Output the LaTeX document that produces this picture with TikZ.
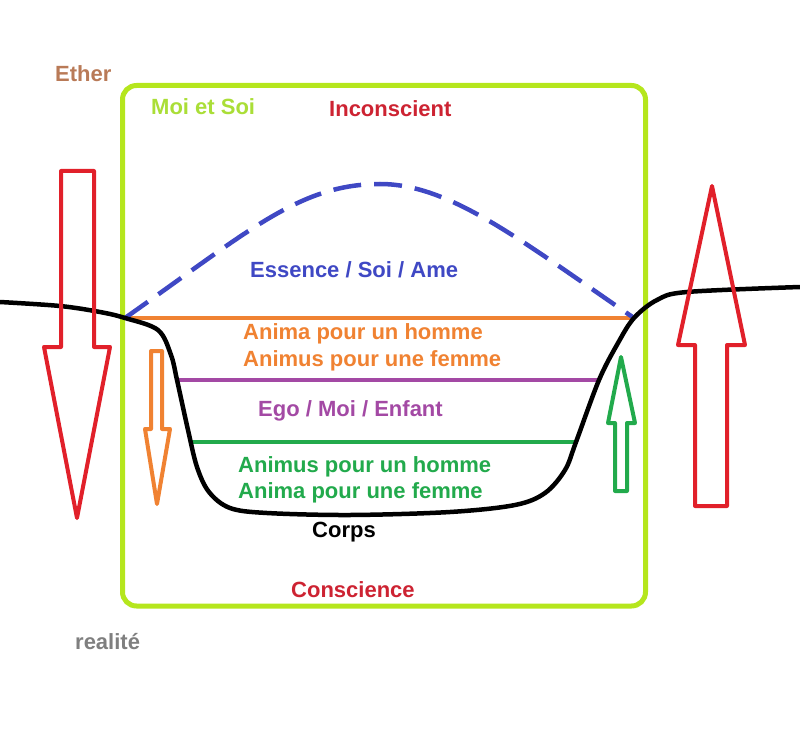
\documentclass[tikz,border=0pt]{standalone}
\usepackage{fontspec}
\setmainfont{Liberation Sans}
\definecolor{paintRed}{RGB}{225,32,42}
\definecolor{inkRed}{RGB}{205,35,50}
\definecolor{paintLime}{RGB}{181,230,29}
\definecolor{inkLime}{RGB}{170,222,55}
\definecolor{paintOrange}{RGB}{240,130,50}
\definecolor{paintPurple}{RGB}{163,73,164}
\definecolor{paintGreen}{RGB}{34,170,76}
\definecolor{paintBlue}{RGB}{63,72,196}
\definecolor{paintBrown}{RGB}{185,122,87}
\definecolor{paintGray}{RGB}{127,127,127}
\begin{document}
\begin{tikzpicture}[x=1pt,y=-1pt,
  every node/.style={font=\fontsize{22}{26}\selectfont\bfseries,inner sep=0pt,anchor=base west},
  frame/.style={draw=paintLime,line width=5pt,rounded corners=14pt},
  blockarrow/.style={line width=4pt,line join=round},
  layer/.style={line width=4pt}]
\useasboundingbox (0,0) rectangle (800,738);
% frame Moi et Soi
\draw[frame] (122.5,85.5) rectangle (645.5,606);
% junctions on the body line
\coordinate (lj) at (125,318);
\coordinate (rj) at (634,318);
\coordinate (pl) at (177,380);
\coordinate (pr) at (599,380);
\coordinate (gl) at (189,442);
\coordinate (gr) at (576,442);
% layers
\draw[layer,paintOrange] (lj) -- (rj);
\draw[layer,paintPurple] (pl) -- (pr);
\draw[layer,paintGreen] (gl) -- (gr);
\draw[layer,paintBlue,line width=4.5pt,dash pattern=on 28pt off 13pt]
  (lj) .. controls (250,230) and (300,184) .. (380,184)
       .. controls (450,184) and (520,240) .. (rj);
% body line
\draw[line width=4.5pt,line cap=round] plot[smooth,tension=0.55] coordinates {(0,302) (60,306) (100,312) (lj) (158,330) (171,355) (pl) (188,430) (197,467) (209,492) (230,508) (267,513) (350,515) (450,512) (515,505) (545,493) (565,470) (gr) (pr) (618,343) (rj) (657,300) (687,292) (800,287)};
% arrows
\draw[blockarrow,paintRed] (61,171) -- (94,171) -- (94,347) -- (110,347) -- (77,518) -- (44,347) -- (61,347) -- cycle;
\draw[blockarrow,paintOrange] (151,351) -- (162,351) -- (162,429) -- (170,429) -- (157,504) -- (145,429) -- (151,429) -- cycle;
\draw[blockarrow,paintGreen] (615,491) -- (627,491) -- (627,423) -- (635,423) -- (621,357) -- (608,423) -- (615,423) -- cycle;
\draw[blockarrow,paintRed] (695,506) -- (727,506) -- (727,345) -- (745,345) -- (712,186) -- (678,345) -- (695,345) -- cycle;
% labels
\node[paintBrown] (ether) at (55,82) {Ether};
\node[inkLime] (moisoi) at (151,115) {Moi et Soi};
\node[inkRed] (incons) at (329,117) {Inconscient};
\node[paintBlue] (essence) at (250,277) {Essence / Soi / Ame};
\node[paintOrange] (animaH) at (243,339) {Anima pour un homme};
\node[paintOrange] (animusF) at (243,366) {Animus pour une femme};
\node[paintPurple] (ego) at (258,416) {Ego / Moi / Enfant};
\node[paintGreen] (animusH) at (238,472) {Animus pour un homme};
\node[paintGreen] (animaF) at (238,498) {Anima pour une femme};
\node (corps) at (312,537) {Corps};
\node[inkRed] (consc) at (291,597) {Conscience};
\node[paintGray] (realite) at (75,649) {realité};
\end{tikzpicture}
\end{document}
